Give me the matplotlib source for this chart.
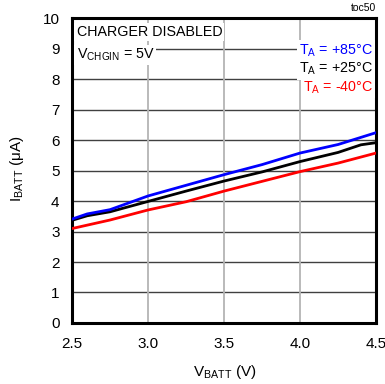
import matplotlib.pyplot as plt

plt.rcParams['font.family'] = ['Liberation Sans', 'DejaVu Sans']
plt.rcParams['mathtext.fontset'] = 'custom'
plt.rcParams['mathtext.rm'] = 'Liberation Sans'
plt.rcParams['mathtext.it'] = 'Liberation Sans'

# data
v_blue = [2.5, 2.6, 2.75, 3.0, 3.25, 3.5, 3.75, 4.0, 4.25, 4.5]
i_blue = [3.41, 3.58, 3.72, 4.17, 4.52, 4.87, 5.20, 5.58, 5.86, 6.25]
v_black = [2.5, 2.6, 2.75, 3.0, 3.25, 3.5, 3.75, 4.0, 4.25, 4.4, 4.5]
i_black = [3.37, 3.52, 3.65, 3.99, 4.33, 4.66, 4.96, 5.30, 5.60, 5.85, 5.92]
v_red = [2.5, 2.75, 3.0, 3.25, 3.5, 3.75, 4.0, 4.25, 4.5]
i_red = [3.10, 3.38, 3.71, 3.98, 4.33, 4.65, 4.97, 5.25, 5.58]

x_ticks = [2.5, 3.0, 3.5, 4.0, 4.5]
y_ticks = list(range(0, 11))

fig = plt.figure(figsize=(3.85, 3.84), dpi=100)
ax = fig.add_axes([0.187, 0.159, 0.790, 0.793])

# grid: dark horizontal, light vertical
for y in y_ticks[1:-1]:
    ax.axhline(y, color='#404040', lw=1.0, zorder=1)
for x in x_ticks[1:-1]:
    ax.axvline(x, color='#b4b4b4', lw=1.3, zorder=1)

ax.plot(v_red, i_red, color='#ff0000', lw=2, zorder=3)
ax.plot(v_black, i_black, color='black', lw=2, zorder=3)
ax.plot(v_blue, i_blue, color='#0000ff', lw=2, zorder=3)

ax.set_xlim(2.5, 4.5)
ax.set_ylim(0, 10)
ax.set_xticks(x_ticks)
ax.set_xticklabels(['2.5', '3.0', '3.5', '4.0', '4.5'])
ax.set_yticks(y_ticks)
ax.tick_params(length=0, labelsize=11)
ax.tick_params(axis='x', pad=10)
ax.tick_params(axis='y', pad=9)
for s in ax.spines.values():
    s.set_linewidth(2.2)

fig.text(0.584, 0.031, r'V$_{\mathrm{BATT}}$ (V)', fontsize=11, ha='center', va='center')
fig.text(0.045, 0.56, r'I$_{\mathrm{BATT}}$ ($\mathrm{\mu}$A)', fontsize=11,
         ha='center', va='center', rotation=90)

# annotations with white background
bbox = dict(facecolor='white', edgecolor='none', pad=1.5)
ax.text(0.015, 0.955, 'CHARGER DISABLED', transform=ax.transAxes, fontsize=10.3,
        ha='left', va='center', bbox=bbox, zorder=4)
ax.text(0.015, 0.88, r'V$_{\mathrm{CHGIN}}$ = 5V', transform=ax.transAxes, fontsize=10.3,
        ha='left', va='center', bbox=bbox, zorder=4)

ax.text(0.99, 0.895, r'T$_{\mathrm{A}}$ = +85°C', transform=ax.transAxes, fontsize=10.3,
        ha='right', va='center', color='#0000ff', bbox=bbox, zorder=4)
ax.text(0.99, 0.833, r'T$_{\mathrm{A}}$ = +25°C', transform=ax.transAxes, fontsize=10.3,
        ha='right', va='center', color='black', bbox=bbox, zorder=4)
ax.text(0.99, 0.772, r'T$_{\mathrm{A}}$ = -40°C', transform=ax.transAxes, fontsize=10.3,
        ha='right', va='center', color='#ff0000', bbox=bbox, zorder=4)

fig.text(0.977, 0.965, 'toc50', fontsize=7.5, ha='right', va='bottom')

plt.savefig('out.png', dpi=100)
